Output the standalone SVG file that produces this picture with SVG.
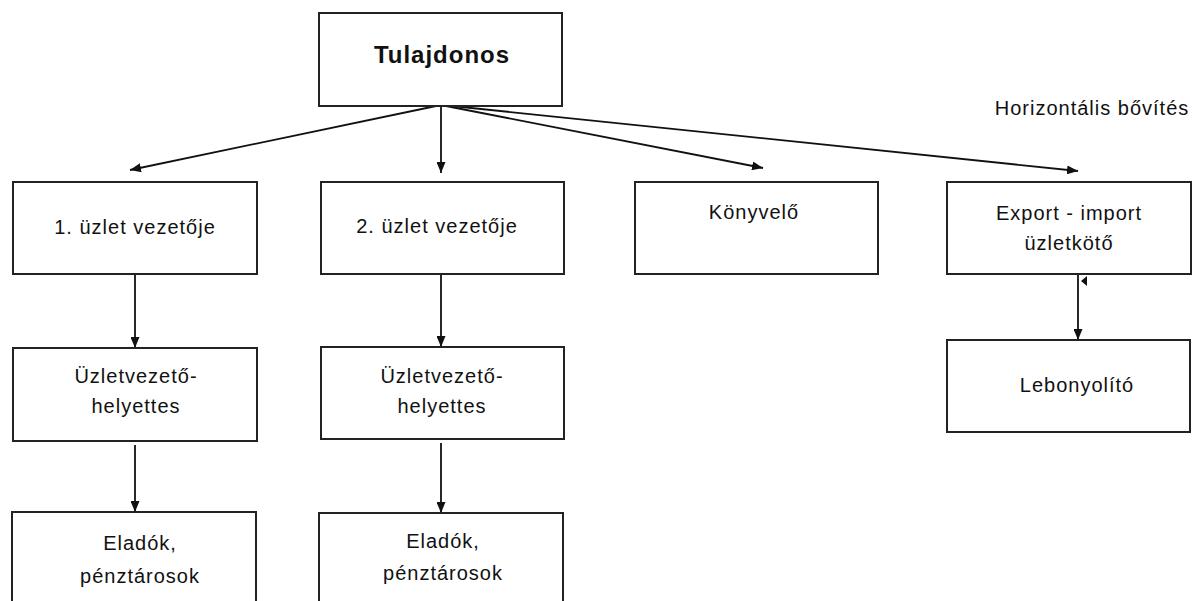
<svg xmlns="http://www.w3.org/2000/svg" width="1198" height="601" viewBox="0 0 1198 601">
<style>
.box{fill:#fff;stroke:#222;stroke-width:2}
.t{font-family:"Liberation Sans",Arial,sans-serif;font-size:20px;fill:#111;text-anchor:middle;letter-spacing:1px}
.b{font-weight:bold;font-size:24px}
.c{stroke:#111;stroke-width:1.8;fill:none;marker-end:url(#ah)}
</style>
<defs>
<marker id="ah" markerUnits="userSpaceOnUse" markerWidth="11" markerHeight="9" refX="11" refY="4.5" orient="auto">
<path d="M0,0 L11,4.5 L0,9 z" fill="#111"/>
</marker>
</defs>
<rect width="1198" height="601" fill="#fff"/>
<g id="connectors">
<line class="c" x1="441" y1="106" x2="441" y2="173"/>
<line class="c" x1="436" y1="106" x2="130" y2="170"/>
<line class="c" x1="446" y1="106" x2="763" y2="168"/>
<line class="c" x1="452" y1="106" x2="1078" y2="171"/>
<line class="c" x1="135" y1="274" x2="135" y2="348"/>
<line class="c" x1="135" y1="445" x2="135" y2="512"/>
<line class="c" x1="441" y1="274" x2="441" y2="347"/>
<line class="c" x1="441" y1="443" x2="441" y2="513"/>
<line class="c" x1="1078" y1="274" x2="1078" y2="340"/>
<path d="M1087,276 L1081,281 L1087,286 z" fill="#111"/>
</g>
<g id="tulajdonos"><rect class="box" x="319" y="13" width="243" height="93"/><text class="t b" x="442" y="63">Tulajdonos</text></g>
<g id="uzlet1"><rect class="box" x="13" y="182" width="244" height="92"/><text class="t" x="135" y="234">1. üzlet vezetője</text></g>
<g id="uzlet2"><rect class="box" x="321" y="182" width="243" height="92"/><text class="t" x="437" y="233">2. üzlet vezetője</text></g>
<g id="konyvelo"><rect class="box" x="635" y="182" width="243" height="92"/><text class="t" x="754" y="219">Könyvelő</text></g>
<g id="export"><rect class="box" x="947" y="182" width="244" height="92"/><text class="t" x="1069" y="220">Export - import</text><text class="t" x="1069" y="250">üzletkötő</text></g>
<g id="horizontalis"><text class="t" x="1092" y="115">Horizontális bővítés</text></g>
<g id="helyettes1"><rect class="box" x="13" y="348" width="244" height="93"/><text class="t" x="136" y="383">Üzletvezető-</text><text class="t" x="136" y="413">helyettes</text></g>
<g id="helyettes2"><rect class="box" x="321" y="347" width="243" height="92"/><text class="t" x="442" y="383">Üzletvezető-</text><text class="t" x="442" y="413">helyettes</text></g>
<g id="lebonyolito"><rect class="box" x="947" y="340" width="243" height="92"/><text class="t" x="1077" y="392">Lebonyolító</text></g>
<g id="eladok1"><rect class="box" x="12" y="512" width="244" height="100"/><text class="t" x="140" y="550">Eladók,</text><text class="t" x="140" y="583">pénztárosok</text></g>
<g id="eladok2"><rect class="box" x="319" y="513" width="244" height="100"/><text class="t" x="443" y="548">Eladók,</text><text class="t" x="443" y="580">pénztárosok</text></g>
</svg>
